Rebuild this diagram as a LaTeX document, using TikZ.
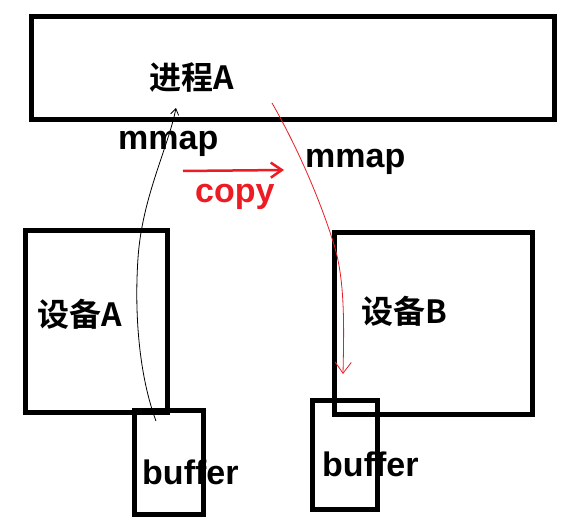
\documentclass[tikz,border=0pt]{standalone}
\usepackage{fontspec}
\setmainfont{Liberation Sans}
\newfontfamily\cjk{Noto Sans CJK SC}[BoldFont={Noto Sans CJK SC Bold}]
\usetikzlibrary{arrows.meta}
\definecolor{paintred}{RGB}{237,28,36}

\begin{document}
\begin{tikzpicture}[x=1pt,y=1pt,
    box/.style={draw, line width=5pt, inner sep=0pt, outer sep=0pt},
    lat/.style={font=\fontsize{34}{40}\selectfont\bfseries, anchor=base west, inner sep=0pt},
    zh/.style={font=\cjk\fontsize{32}{38}\selectfont\bfseries, anchor=base west, inner sep=0pt}]
      \useasboundingbox (0,0) rectangle (573,518);
      \node[box, minimum width=523, minimum height=103.5] (proc) at (293,449.75) {};
      \node[box, minimum width=142, minimum height=181.5] (devA) at (96,196.25) {};
      \node[box, minimum width=198, minimum height=182] (devB) at (433.5,194.5) {};
      \node[box, minimum width=69.5, minimum height=104.5] (bufA) at (168.75,55.25) {};
      \node[box, minimum width=65, minimum height=109] (bufB) at (344.5,63) {};
      \node[zh] (procT) at (149,428) {进程A};
      \node[zh] (devAT) at (37,191) {设备A};
      \node[zh] (devBT) at (361,194) {设备B};
      \node[lat] (mmapA) at (118,368) {mmap};
      \node[lat] (mmapB) at (305,350) {mmap};
      \node[lat, text=paintred] (copyT) at (195,315) {copy};
      \node[lat] (bufAT) at (142,33) {buffer};
      \node[lat] (bufBT) at (322,41) {buffer};
      % mmap ends
      \coordinate (tA) at (156,97);
      \coordinate (hA) at (176,410);
      \coordinate (tB) at (272,415);
      \coordinate (hB) at (343,144);
      \coordinate (cpL) at (183,347);
      \coordinate (cpR) at (284,348);
      \draw[line width=0.8pt, -{Straight Barb[length=6pt,width=8pt]}]
            (tA) .. controls (140,140) and (134,200) .. (138,260)
                 .. controls (142,320) and (168,370) .. (hA);
      \draw[paintred, line width=0.8pt, -{Straight Barb[length=11pt,width=16pt]}]
            (tB) .. controls (295,375) and (320,320) .. (335,270)
                 .. controls (345,235) and (344,190) .. (hB);
      \draw[paintred, line width=2.5pt, -{Straight Barb[length=11pt,width=15pt]}] (cpL) -- (cpR);
\end{tikzpicture}
\end{document}
